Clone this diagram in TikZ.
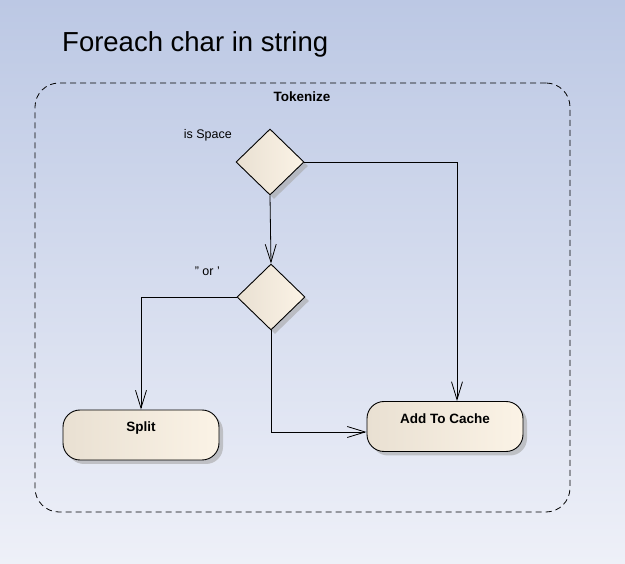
\documentclass[tikz,border=0pt]{standalone}
\usepackage{fontspec}
\setmainfont{Liberation Sans}
\usetikzlibrary{shapes.geometric,arrows.meta,shadows}
\definecolor{bgtop}{RGB}{188,200,228}
\definecolor{bgbot}{RGB}{238,240,248}
\definecolor{actl}{RGB}{233,224,210}
\definecolor{actr}{RGB}{251,243,230}
\tikzset{
  act/.style={draw=black, line width=0.9pt, rounded corners=17pt, left color=actl, right color=actr,
    minimum width=156pt, minimum height=50pt, inner sep=0pt, text depth=16pt,
    font=\fontsize{13.5}{15}\selectfont\bfseries,
    drop shadow={shadow xshift=4pt, shadow yshift=-4pt, fill=black!35, opacity=0.6}},
  dec/.style={draw=black, line width=0.9pt, diamond, left color=actl, right color=actr,
    minimum width=68pt, minimum height=66pt, inner sep=0pt,
    drop shadow={shadow xshift=4pt, shadow yshift=-4pt, fill=black!35, opacity=0.6}},
  flow/.style={draw=black, line width=0.8pt, -{Straight Barb[length=18pt,width=11pt,line width=0.8pt]}},
  lbl/.style={font=\fontsize{12.5}{14}\selectfont, inner sep=0pt},
}
\begin{document}
\begin{tikzpicture}[x=1pt,y=-1pt]
\shade[top color=bgtop, bottom color=bgbot] (0,0) rectangle (625,564);
\useasboundingbox (0,0) rectangle (625,564);
\node[font=\fontsize{27.5}{32}\selectfont, anchor=west, inner sep=0pt] (title) at (62,44) {Foreach char in string};
\node[draw=black, line width=0.8pt, dash pattern=on 6pt off 4pt, rounded corners=24pt,
  minimum width=535pt, minimum height=429pt, inner sep=0pt] (tok) at (302.5,297.5) {};
\node[font=\fontsize{13.5}{15}\selectfont\bfseries, inner sep=0pt] (tokl) at (302,97) {Tokenize};
\node[dec] (d1) at (270,162) {};
\node[dec] (d2) at (271,297) {};
\node[lbl, anchor=east] (l1) at (232,135) {is Space};
\node[lbl, anchor=east] (l2) at (220,271) {" or '};
\node[act] (split) at (141,435) {Split};
\node[act] (atc) at (445,426.5) {Add To Cache};
\draw[flow] (d1.south) -- (d2.north);
\draw[flow] (d1.east) -| ([xshift=12pt]atc.north);
\draw[flow] (d2.west) -| (split.north);
\draw[flow] (d2.south) |- ([yshift=-5.5pt]atc.west);
\end{tikzpicture}
\end{document}
